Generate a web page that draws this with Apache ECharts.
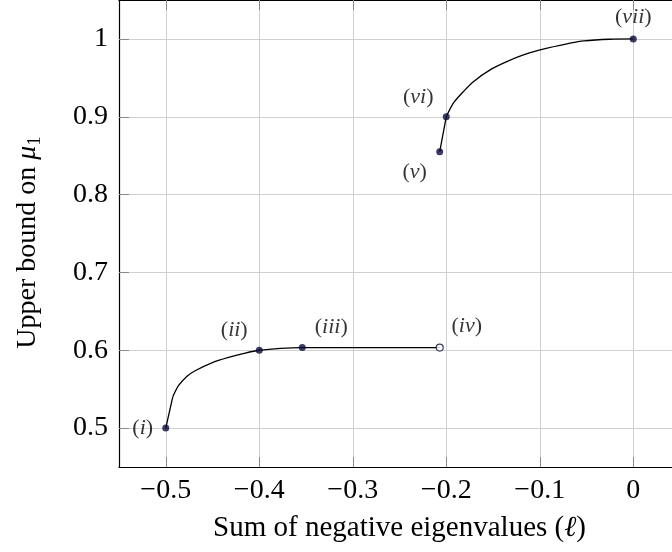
<!DOCTYPE html>
<html><head><meta charset="utf-8">
<script src="https://cdn.jsdelivr.net/npm/echarts@6/dist/echarts.min.js"></script>
<style>html,body{margin:0;padding:0;background:#fff}#c{width:672px;height:552px}</style>
</head><body><div id="c"></div><script>
// ---- data ----
const xTicks = [-0.5, -0.4, -0.3, -0.2, -0.1, 0];
const yTicks = [0.5, 0.6, 0.7, 0.8, 0.9, 1];
// lower branch: (i) -> kink -> (ii) -> (iii) -> (iv)
const lowerX = [-0.5, -0.4925, -0.4864, -0.4775, -0.4686, -0.4507, -0.4329, -0.415, -0.4, -0.377, -0.354, -0.207];
const lowerY = [0.5, 0.5402, 0.5544, 0.5664, 0.5737, 0.5839, 0.5908, 0.5964, 0.6, 0.6025, 0.6035, 0.6035];
// upper branch: (v) -> (vi) -> (vii)
const upperX = [-0.207, -0.2, -0.1924, -0.1817, -0.171, -0.1531, -0.1353, -0.1175, -0.0996, -0.0675, -0.0528, -0.025, 0];
const upperY = [0.855, 0.9, 0.9174, 0.9323, 0.9451, 0.9602, 0.9708, 0.9794, 0.9859, 0.9945, 0.9975, 0.9996, 1];
// marked points
const pointNames = ['i', 'ii', 'iii', 'iv', 'v', 'vi', 'vii'];
const pointX = [-0.5, -0.4, -0.354, -0.207, -0.207, -0.2, 0];
const pointY = [0.5, 0.6, 0.6035, 0.6035, 0.855, 0.9, 1];
const openPointNames = ['iv'];

// ---- layout / style ----
const labelOffsets = {
  i: [-23, 0], ii: [-25, -20], iii: [29, -20], iv: [27, -21],
  v: [-25, 20], vi: [-28, -20], vii: [0, -22]
};
const FONT = '"Liberation Serif", "DejaVu Serif", serif';
const markColor = '#0a0a3c';

const zip = (xs, ys) => xs.map((x, i) => [x, ys[i]]);
const fmt = v => {
  const r = Math.round(v * 100) / 100;
  return (r < 0 ? '\u2212' : '') + String(Math.abs(r));
};

function pointItem(i) {
  const n = pointNames[i];
  const open = openPointNames.includes(n);
  return {
    value: [pointX[i], pointY[i]],
    itemStyle: open ? { color: '#ffffff', borderColor: markColor, borderWidth: 1.2 } : { color: markColor },
    label: {
      show: true,
      position: 'inside',
      offset: labelOffsets[n],
      formatter: '{p|(}{r|' + n + '}{p|)}',
      rich: {
        p: { fontFamily: FONT, fontSize: 22, color: '#000' },
        r: { fontFamily: FONT, fontSize: 22, fontStyle: 'italic', color: '#000' }
      }
    }
  };
}

const baseX = {
  type: 'value', min: -0.55, max: 0.05,
  axisLine: { show: true, onZero: false, lineStyle: { color: '#000', width: 1.2 } },
  axisTick: { show: true, inside: true, length: 10, customValues: xTicks, lineStyle: { color: '#8a8a8a', width: 1 } },
};
const baseY = {
  type: 'value', min: 0.45, max: 1.05,
  axisLine: { show: true, onZero: false, lineStyle: { color: '#000', width: 1.2 } },
  axisTick: { show: true, inside: true, length: 10, customValues: yTicks, lineStyle: { color: '#8a8a8a', width: 1 } },
};

const lineStyle = { color: '#000', width: 1.3 };
const kinkLower = 2; // straight piece (i)->kink, then smooth curve
const kinkUpper = 2; // straight piece (v)->(vi), then smooth curve

const option = {
  animation: false,
  backgroundColor: '#fff',
  grid: { left: 119, top: 0, width: 561, height: 467, containLabel: false, outerBoundsMode: 'none' },
  xAxis: [
    Object.assign({}, baseX, {
      position: 'bottom',
      name: 'Sum of negative eigenvalues ({it|\u2113})',
      nameLocation: 'middle', nameGap: 47,
      nameTextStyle: { fontFamily: FONT, fontSize: 29, color: '#000',
        rich: { it: { fontFamily: FONT, fontSize: 29, fontStyle: 'italic', color: '#000' } } },
      axisLabel: { show: true, customValues: xTicks, formatter: fmt, margin: 10,
        fontFamily: FONT, fontSize: 28, color: '#000' },
      splitLine: { show: true, lineStyle: { color: '#cfcfcf', width: 1 } }
    }),
    Object.assign({}, baseX, {
      position: 'top',
      axisLabel: { show: false },
      splitLine: { show: false }
    })
  ],
  yAxis: [
    Object.assign({}, baseY, {
      position: 'left',
      name: 'Upper bound on {mu|\u03bc}{sub|1}',
      nameLocation: 'middle', nameGap: 74,
      nameTextStyle: { fontFamily: FONT, fontSize: 28, color: '#000', padding: [0, 18, 0, 0],
        rich: {
          mu: { fontFamily: FONT, fontSize: 28, fontStyle: 'italic', color: '#000', lineHeight: 34 },
          sub: { fontFamily: FONT, fontSize: 19, color: '#000', verticalAlign: 'bottom', lineHeight: 34 }
        } },
      axisLabel: { show: true, customValues: yTicks, formatter: fmt, margin: 11,
        fontFamily: FONT, fontSize: 28, color: '#000' },
      splitLine: { show: true, lineStyle: { color: '#cfcfcf', width: 1 } }
    })
  ],
  series: [
    { type: 'line', data: zip(lowerX, lowerY).slice(0, kinkLower), showSymbol: false, lineStyle, z: 2 },
    { type: 'line', data: zip(lowerX, lowerY).slice(kinkLower - 1), showSymbol: false,
      smooth: 0.25, lineStyle, z: 2 },
    { type: 'line', data: zip(upperX, upperY).slice(0, kinkUpper), showSymbol: false, lineStyle, z: 2 },
    { type: 'line', data: zip(upperX, upperY).slice(kinkUpper - 1), showSymbol: false,
      smooth: 0.25, lineStyle, z: 2 },
    { type: 'scatter', symbol: 'circle', symbolSize: 7,
      data: pointNames.map((_, i) => pointItem(i)), z: 5 }
  ]
};

echarts.init(document.getElementById('c'), null, { renderer: 'canvas' }).setOption(option);
</script></body></html>
